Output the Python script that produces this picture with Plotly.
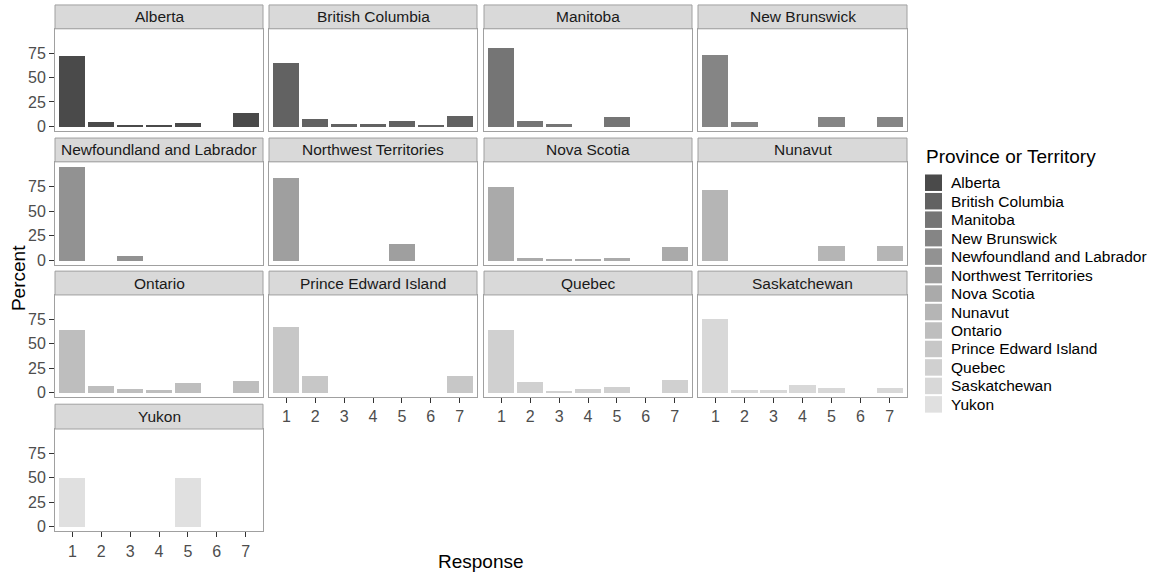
import numpy as np
import plotly.graph_objects as go

# ---------------- data ----------------
provinces = ["Alberta", "British Columbia", "Manitoba", "New Brunswick",
             "Newfoundland and Labrador", "Northwest Territories", "Nova Scotia",
             "Nunavut", "Ontario", "Prince Edward Island", "Quebec",
             "Saskatchewan", "Yukon"]
responses = [1, 2, 3, 4, 5, 6, 7]

alberta = [72.3, 4.7, 1.0, 1.0, 3.3, 0, 14.1]
british_columbia = [64.9, 8.0, 3.0, 2.7, 5.3, 1.0, 11.1]
manitoba = [80.0, 5.3, 2.3, 0, 9.4, 0, 0]
new_brunswick = [73.0, 4.4, 0, 0, 9.8, 0, 9.8]
newfoundland = [94.7, 0, 4.7, 0, 0, 0, 0]
northwest_territories = [83.3, 0, 0, 0, 16.7, 0, 0]
nova_scotia = [74.7, 3.0, 1.3, 1.3, 3.0, 0, 13.7]
nunavut = [71.4, 0, 0, 0, 14.3, 0, 14.3]
ontario = [64.2, 6.4, 3.4, 2.4, 9.4, 0, 12.4]
pei = [66.7, 16.7, 0, 0, 0, 0, 16.7]
quebec = [63.9, 10.4, 1.7, 3.4, 5.7, 0, 13.1]
saskatchewan = [75.0, 2.4, 2.4, 7.7, 5.0, 0, 5.0]
yukon = [50.0, 0, 0, 0, 50.0, 0, 0]

series = [alberta, british_columbia, manitoba, new_brunswick, newfoundland,
          northwest_territories, nova_scotia, nunavut, ontario, pei, quebec,
          saskatchewan, yukon]

y_ticks = [0, 25, 50, 75]

# ---------------- style ----------------
W, H = 1150, 579
def fx(x):
    return x / W
def fy(y):
    return 1 - y / H

# grey ramp (ggplot scale_fill_grey style, gamma 2.2)
n = len(provinces)
lv = np.linspace(0.29 ** 2.2, 0.88 ** 2.2, n) ** (1 / 2.2)
colors = []
for v in lv:
    g = int(round(v * 255))
    colors.append("#%02x%02x%02x" % (g, g, g))

col_l = [55, 269, 484, 698]
col_r = [263, 477, 692, 907]
row_panel = [(29, 132), (163, 267), (297, 400), (432, 535)]
row_strip = [(5, 29), (139, 163), (273, 297), (407, 432)]

FONT = "Liberation Sans, Arial, sans-serif"
BORDER = "#a0a0a0"
FS_TICK = 16
FS_TXT = 15.5

fig = go.Figure()
layout = dict(width=W, height=H, margin=dict(l=0, r=0, t=0, b=0),
              paper_bgcolor="white", plot_bgcolor="white", showlegend=False,
              font=dict(family=FONT), shapes=[], annotations=[], bargap=0)

for i, (prov, vals) in enumerate(zip(provinces, series)):
    r, c = divmod(i, 4)
    k = i + 1
    xa = "x" if k == 1 else f"x{k}"
    ya = "y" if k == 1 else f"y{k}"
    fig.add_trace(go.Bar(x=responses, y=vals, width=0.9, xaxis=xa, yaxis=ya,
                         marker=dict(color=colors[i], line=dict(width=0)),
                         name=prov))
    top, bot = row_panel[r]
    bottom_of_col = (i + 4 >= n)
    xkey = "xaxis" if k == 1 else f"xaxis{k}"
    ykey = "yaxis" if k == 1 else f"yaxis{k}"
    layout[xkey] = dict(domain=[fx(col_l[c]), fx(col_r[c])], anchor=ya,
                        range=[0.4, 7.6], tickvals=responses,
                        showticklabels=bottom_of_col,
                        ticks="outside" if bottom_of_col else "",
                        ticklen=5, tickcolor="#333333", tickwidth=1,
                        tickfont=dict(size=FS_TICK, color="#4d4d4d"),
                        showgrid=False, zeroline=False,
                        showline=True, mirror=True, linecolor=BORDER, linewidth=1)
    layout[ykey] = dict(domain=[fy(bot), fy(top)], anchor=xa,
                        range=[-4.75, 99.75], tickvals=y_ticks,
                        showticklabels=(c == 0),
                        ticks="outside" if c == 0 else "",
                        ticklen=5, tickcolor="#333333", tickwidth=1,
                        tickfont=dict(size=FS_TICK, color="#4d4d4d"),
                        showgrid=False, zeroline=False,
                        showline=True, mirror=True, linecolor=BORDER, linewidth=1)
    st, sb = row_strip[r]
    layout["shapes"].append(dict(type="rect", xref="paper", yref="paper",
                                 x0=fx(col_l[c]), x1=fx(col_r[c]), y0=fy(sb), y1=fy(st),
                                 fillcolor="#d9d9d9", line=dict(color=BORDER, width=1),
                                 layer="above"))
    layout["annotations"].append(dict(text=prov, xref="paper", yref="paper",
                                      x=fx((col_l[c] + col_r[c]) / 2), y=fy((st + sb) / 2),
                                      xanchor="center", yanchor="middle", showarrow=False,
                                      font=dict(size=FS_TXT, color="#1a1a1a")))

# axis titles
layout["annotations"].append(dict(text="Response", xref="paper", yref="paper",
                                  x=fx(481), y=fy(565), xanchor="center", yanchor="middle",
                                  showarrow=False, font=dict(size=19, color="black")))
layout["annotations"].append(dict(text="Percent", xref="paper", yref="paper",
                                  x=fx(18), y=fy(280), xanchor="center", yanchor="middle",
                                  textangle=-90, showarrow=False,
                                  font=dict(size=19, color="black")))

# legend (drawn manually to match ggplot key size)
layout["annotations"].append(dict(text="Province or Territory", xref="paper", yref="paper",
                                  x=fx(924), y=fy(158), xanchor="left", yanchor="middle",
                                  showarrow=False, font=dict(size=19, color="black")))
for i, prov in enumerate(provinces):
    yc = 184 + i * 18.6
    layout["shapes"].append(dict(type="rect", xref="paper", yref="paper",
                                 x0=fx(925), x1=fx(942), y0=fy(yc + 8.3), y1=fy(yc - 8.3),
                                 fillcolor=colors[i], line=dict(width=0)))
    layout["annotations"].append(dict(text=prov, xref="paper", yref="paper",
                                      x=fx(949), y=fy(yc), xanchor="left", yanchor="middle",
                                      showarrow=False, font=dict(size=FS_TXT, color="black")))

fig.update_layout(**layout)
fig.write_html("out.html")
